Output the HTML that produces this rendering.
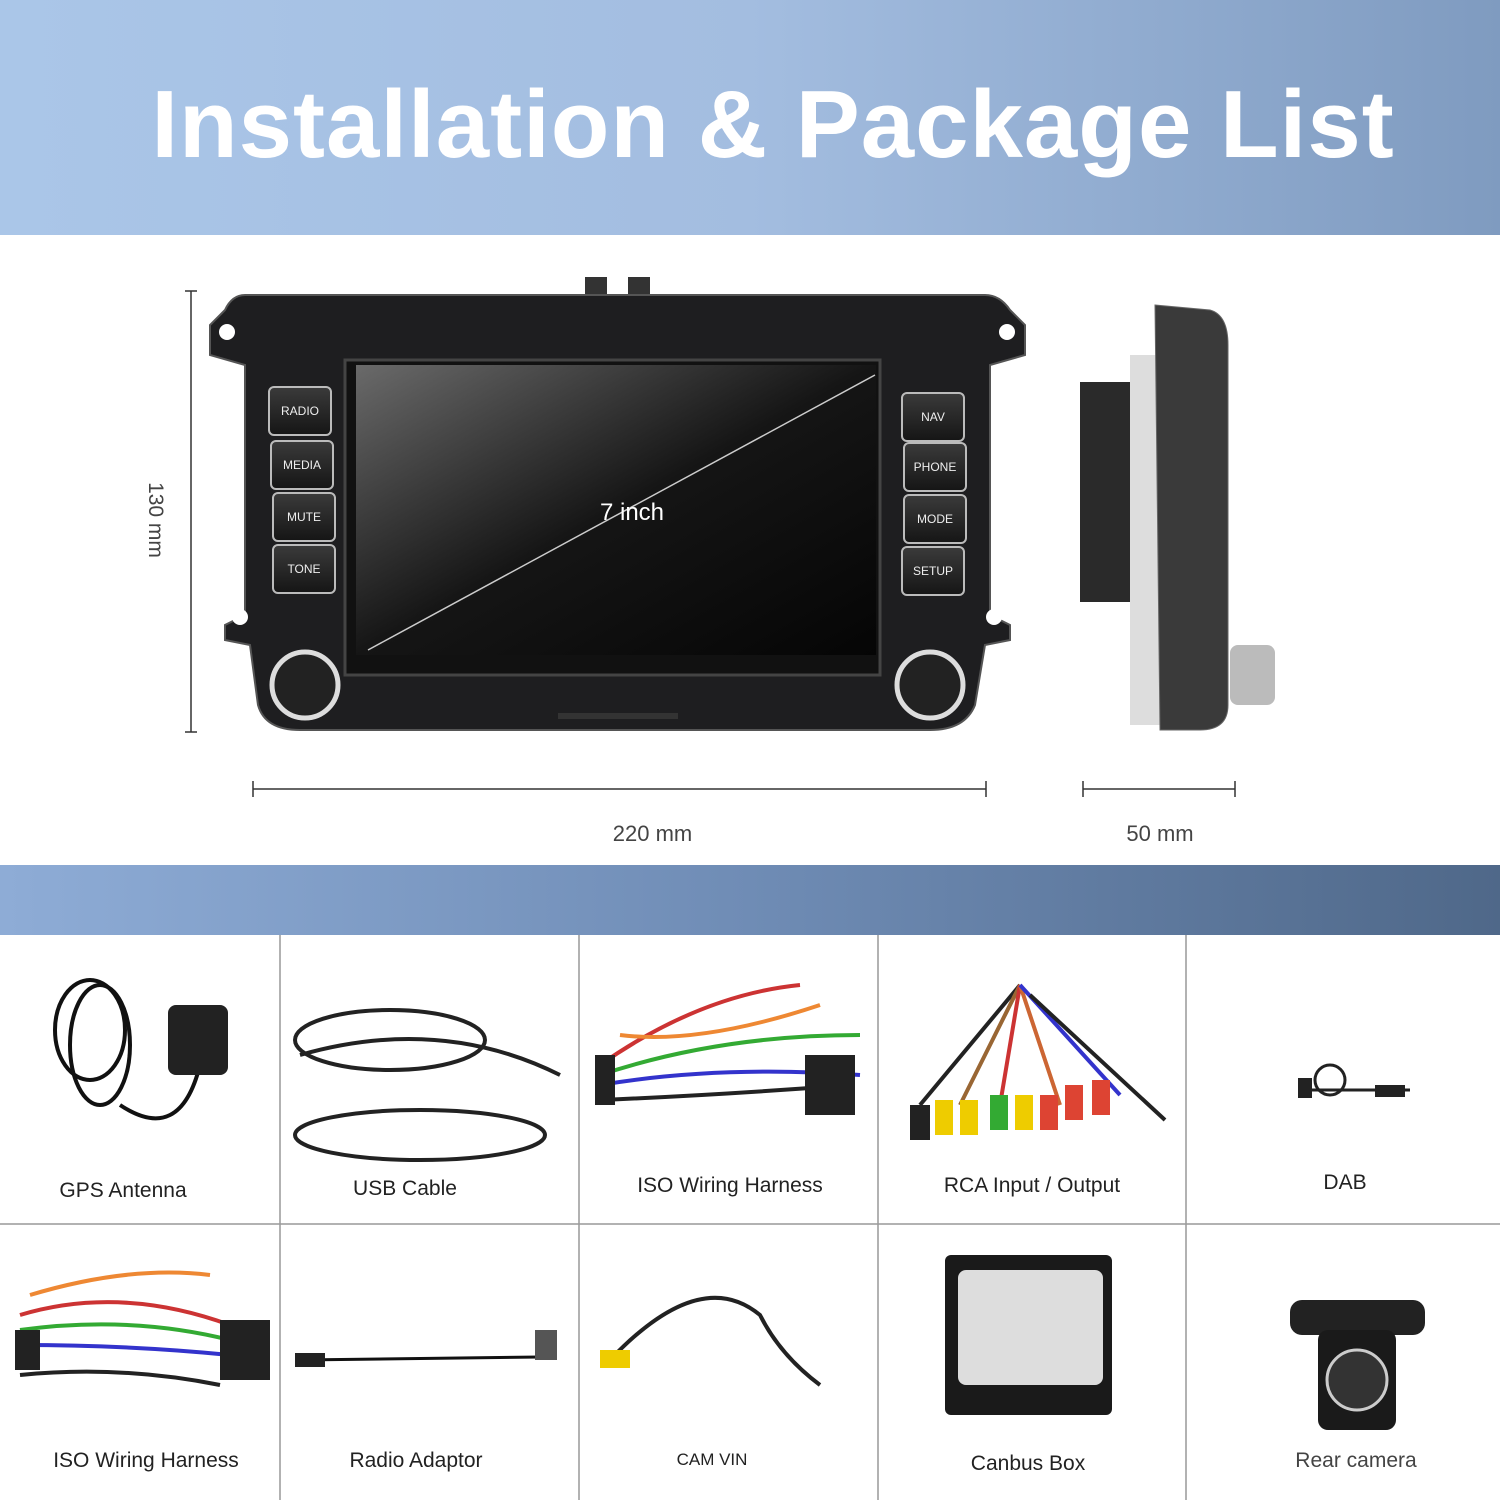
<!DOCTYPE html>
<html><head><meta charset="utf-8"><style>
body{margin:0;width:1500px;height:1500px;position:relative;background:#fff;font-family:"Liberation Sans",sans-serif;overflow:hidden}
.a{position:absolute}
.hdr{left:0;top:0;width:1500px;height:235px;background:linear-gradient(90deg,#aac6e8 0%,#a3bde0 50%,#7f9bc0 100%)}
.title{left:0;top:70px;width:1546px;text-align:center;color:#fff;font-weight:bold;font-size:96px;letter-spacing:1px}
.band{left:0;top:865px;width:1500px;height:70px;background:linear-gradient(90deg,#8eacd6 0%,#6f8cb5 50%,#4f6889 100%)}
.lbl{font-size:21px;color:#222;text-align:center;width:300px}
.btn{background:linear-gradient(#3a3a3a,#161616);border:2px solid #bbb;border-radius:6px;color:#eee;font-size:12px;text-align:center;line-height:46px;width:60px;height:46px}
</style></head><body>
<div class="a hdr"></div>
<div class="a title">Installation &amp; Package List</div>

<svg class="a" style="left:0;top:235px" width="1500" height="630">
<!-- dimension lines -->
<g stroke="#333" stroke-width="1.5" fill="none">
<line x1="191" y1="56" x2="191" y2="497"/><line x1="185" y1="56" x2="197" y2="56"/><line x1="185" y1="497" x2="197" y2="497"/>
<line x1="253" y1="554" x2="986" y2="554"/><line x1="253" y1="546" x2="253" y2="562"/><line x1="986" y1="546" x2="986" y2="562"/>
<line x1="1083" y1="554" x2="1235" y2="554"/><line x1="1083" y1="546" x2="1083" y2="562"/><line x1="1235" y1="546" x2="1235" y2="562"/>
</g>
<!-- radio -->
<rect x="585" y="42" width="22" height="20" fill="#333"/><rect x="628" y="42" width="22" height="20" fill="#333"/>
<path d="M245 60 L985 60 Q1000 60 1010 75 L1025 90 L1025 120 L990 130 L990 380 L1010 390 L1010 405 L985 410 L975 470 Q965 495 930 495 L300 495 Q265 495 258 470 L250 410 L225 405 L225 390 L245 380 L245 130 L210 120 L210 90 L225 75 Q232 60 245 60Z" fill="#1e1e20" stroke="#555" stroke-width="2"/>
<circle cx="227" cy="97" r="8" fill="#fff"/><circle cx="1007" cy="97" r="8" fill="#fff"/>
<circle cx="240" cy="382" r="8" fill="#fff"/><circle cx="994" cy="382" r="8" fill="#fff"/>
<rect x="345" y="125" width="535" height="315" fill="#111" stroke="#444" stroke-width="3"/>
<rect x="356" y="130" width="520" height="290" fill="url(#sg)"/>
<defs><linearGradient id="sg" x1="0" y1="0" x2="1" y2="1"><stop offset="0" stop-color="#6a6a6a"/><stop offset="0.5" stop-color="#151515"/><stop offset="1" stop-color="#050505"/></linearGradient></defs>
<line x1="368" y1="415" x2="875" y2="140" stroke="#ccc" stroke-width="1.5"/>
<text x="632" y="285" fill="#fff" font-size="24" text-anchor="middle" font-family="Liberation Sans">7 inch</text>
<circle cx="305" cy="450" r="33" fill="#222" stroke="#ddd" stroke-width="5"/>
<circle cx="930" cy="450" r="33" fill="#222" stroke="#ddd" stroke-width="5"/>
<rect x="558" y="478" width="120" height="6" fill="#333"/>
<!-- side view -->
<rect x="1080" y="147" width="80" height="220" fill="#2a2a2a"/>
<rect x="1130" y="120" width="40" height="370" fill="#ddd"/>
<path d="M1155 70 L1210 75 Q1228 80 1228 110 L1228 470 Q1228 495 1200 495 L1160 495Z" fill="#3a3a3a" stroke="#666"/>
<rect x="1230" y="410" width="45" height="60" rx="8" fill="#bbb"/>
</svg>
<div class="a" style="left:110px;top:508px;width:90px;text-align:center;font-size:21px;color:#444;transform:rotate(90deg)">130 mm</div>
<div class="a" style="left:560px;top:821px;width:185px;text-align:center;font-size:22px;color:#444">220 mm</div>
<div class="a" style="left:1070px;top:821px;width:180px;text-align:center;font-size:22px;color:#444">50 mm</div>
<div class="a btn" style="left:268px;top:386px">RADIO</div>
<div class="a btn" style="left:270px;top:440px">MEDIA</div>
<div class="a btn" style="left:272px;top:492px">MUTE</div>
<div class="a btn" style="left:272px;top:544px">TONE</div>
<div class="a btn" style="left:901px;top:392px">NAV</div>
<div class="a btn" style="left:903px;top:442px">PHONE</div>
<div class="a btn" style="left:903px;top:494px">MODE</div>
<div class="a btn" style="left:901px;top:546px">SETUP</div>

<div class="a band"></div>

<svg class="a" style="left:0;top:935px" width="1500" height="565">
<g stroke="#999" stroke-width="1.5">
<line x1="280" y1="0" x2="280" y2="565"/><line x1="579" y1="0" x2="579" y2="565"/><line x1="878" y1="0" x2="878" y2="565"/><line x1="1186" y1="0" x2="1186" y2="565"/>
<line x1="0" y1="289" x2="1500" y2="289"/>
</g>
<!-- GPS -->
<g fill="none" stroke="#111" stroke-width="4"><ellipse cx="90" cy="95" rx="35" ry="50"/><ellipse cx="100" cy="110" rx="30" ry="60"/><path d="M120 170 Q180 210 200 130"/></g>
<rect x="168" y="70" width="60" height="70" rx="8" fill="#222"/>
<!-- USB -->
<g fill="none" stroke="#222" stroke-width="4"><ellipse cx="390" cy="105" rx="95" ry="30"/><path d="M300 120 Q440 80 560 140"/><ellipse cx="420" cy="200" rx="125" ry="25"/></g>
<!-- ISO -->
<g fill="none" stroke-width="4"><path d="M600 130 Q700 60 800 50" stroke="#c33"/><path d="M600 140 Q720 100 860 100" stroke="#3a3"/><path d="M600 150 Q720 130 860 140" stroke="#33c"/><path d="M620 100 Q700 110 820 70" stroke="#e83"/><path d="M600 165 Q720 160 850 150" stroke="#222"/></g>
<rect x="805" y="120" width="50" height="60" fill="#222"/><rect x="595" y="120" width="20" height="50" fill="#222"/>
<!-- RCA -->
<g fill="none" stroke-width="4"><path d="M1020 50 L920 170" stroke="#222"/><path d="M1020 50 L960 170" stroke="#963"/><path d="M1020 50 L1000 170" stroke="#c33"/><path d="M1020 50 L1060 170" stroke="#c63"/><path d="M1020 50 L1120 160" stroke="#33c"/><path d="M1030 60 L1165 185" stroke="#222"/></g>
<g><rect x="910" y="170" width="20" height="35" fill="#222"/><rect x="935" y="165" width="18" height="35" fill="#ec0"/><rect x="960" y="165" width="18" height="35" fill="#ec0"/><rect x="990" y="160" width="18" height="35" fill="#3a3"/><rect x="1015" y="160" width="18" height="35" fill="#ec0"/><rect x="1040" y="160" width="18" height="35" fill="#d43"/><rect x="1065" y="150" width="18" height="35" fill="#d43"/><rect x="1092" y="145" width="18" height="35" fill="#d43"/></g>
<!-- DAB -->
<g fill="none" stroke="#222" stroke-width="3"><circle cx="1330" cy="145" r="15"/><path d="M1300 155 L1410 155"/></g>
<rect x="1298" y="143" width="14" height="20" fill="#222"/><rect x="1375" y="150" width="30" height="12" fill="#222"/>
<!-- ISO 2 -->
<g fill="none" stroke-width="4"><path d="M20 380 Q120 350 230 390" stroke="#c33"/><path d="M20 395 Q130 380 230 405" stroke="#3a3"/><path d="M20 410 Q130 410 230 420" stroke="#33c"/><path d="M30 360 Q130 330 210 340" stroke="#e83"/><path d="M20 440 Q120 430 220 450" stroke="#222"/></g>
<rect x="220" y="385" width="50" height="60" fill="#222"/><rect x="15" y="395" width="25" height="40" fill="#222"/>
<!-- Radio adaptor -->
<path d="M300 425 L540 422" stroke="#111" stroke-width="3"/><rect x="295" y="418" width="30" height="14" fill="#222"/><rect x="535" y="395" width="22" height="30" fill="#555"/>
<!-- CAM VIN -->
<path d="M610 425 Q700 330 760 380 Q780 420 820 450" stroke="#222" stroke-width="4" fill="none"/><rect x="600" y="415" width="30" height="18" fill="#ec0"/>
<!-- Canbus -->
<rect x="945" y="320" width="167" height="160" rx="6" fill="#1a1a1a"/><rect x="958" y="335" width="145" height="115" rx="8" fill="#ddd"/>
<!-- Camera -->
<rect x="1290" y="365" width="135" height="35" rx="12" fill="#222"/><rect x="1318" y="395" width="78" height="100" rx="10" fill="#1a1a1a"/><circle cx="1357" cy="445" r="30" fill="#333" stroke="#ccc" stroke-width="3"/>
</svg>
<div class="a lbl" style="left:-27px;top:1179px">GPS Antenna</div>
<div class="a lbl" style="left:255px;top:1177px">USB Cable</div>
<div class="a lbl" style="left:580px;top:1174px">ISO Wiring Harness</div>
<div class="a lbl" style="left:882px;top:1174px">RCA Input / Output</div>
<div class="a lbl" style="left:1195px;top:1171px">DAB</div>
<div class="a lbl" style="left:-4px;top:1449px">ISO Wiring Harness</div>
<div class="a lbl" style="left:266px;top:1449px">Radio Adaptor</div>
<div class="a lbl" style="left:562px;top:1450px;font-size:17px">CAM VIN</div>
<div class="a lbl" style="left:878px;top:1452px">Canbus Box</div>
<div class="a lbl" style="left:1206px;top:1449px;color:#444">Rear camera</div>
</body></html>
